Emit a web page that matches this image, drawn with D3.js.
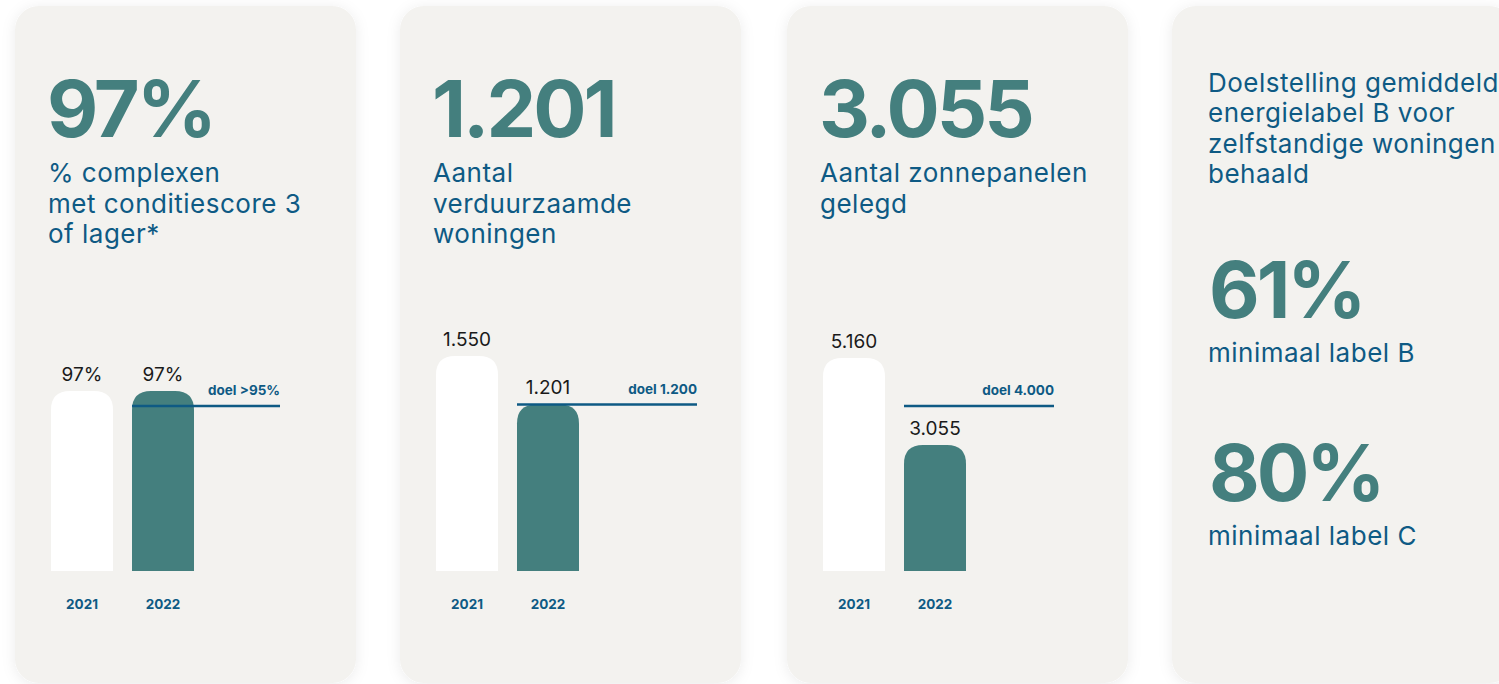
<!DOCTYPE html>
<html>
<head>
<meta charset="utf-8">
<script src="https://cdn.jsdelivr.net/npm/d3@7.9.0/dist/d3.min.js"></script>
<style>
  body { margin: 0; background: #ffffff; overflow: hidden; }
  svg { display: block; font-family: Inter, "Noto Sans", sans-serif; }
</style>
</head>
<body>
<svg id="chart" width="1499" height="684"></svg>
<script>
// data
const years = ['2021', '2022'];

const conditieValues = [97, 97];
const conditieTarget = 95;

const verduurzaamdValues = [1550, 1201];
const verduurzaamdTarget = 1200;

const zonnepanelenValues = [5160, 3055];
const zonnepanelenTarget = 4000;

const labelPercentages = [61, 80];
const labelNames = ['minimaal label B', 'minimaal label C'];

const nl = d3.formatLocale({ decimal: ',', thousands: '.', grouping: [3], currency: ['€', ''] });
const fmtNum = nl.format(',');
const fmtPct = d => d + '%';

const teal = '#447f7e';
const blue = '#0e5a84';
const cardFill = '#f3f2ef';

const svg = d3.select('#chart');

// soft shadow for the cards
const defs = svg.append('defs');
const shadow = defs.append('filter').attr('id', 'shadow')
  .attr('x', '-20%').attr('y', '-20%').attr('width', '140%').attr('height', '140%');
shadow.append('feDropShadow')
  .attr('dx', 0).attr('dy', 2).attr('stdDeviation', 7)
  .attr('flood-color', '#000').attr('flood-opacity', 0.08);

const cardX = [15, 400, 787, 1172];
const cardTop = 6, cardW = 341, cardH = 677;

svg.selectAll('rect.card').data(cardX).enter().append('rect')
  .attr('class', 'card')
  .attr('x', d => d).attr('y', cardTop)
  .attr('width', cardW).attr('height', cardH)
  .attr('rx', 24)
  .attr('fill', cardFill)
  .attr('filter', 'url(#shadow)');

// rounded top only
function barPath(x, y, w, h, r) {
  r = Math.min(r, w / 2, h);
  return `M${x},${y + h}V${y + r}Q${x},${y} ${x + r},${y}H${x + w - r}Q${x + w},${y} ${x + w},${y + r}V${y + h}Z`;
}

const baseY = 571;

const cards = [
  {
    x: cardX[0], big: fmtPct(conditieValues[1]),
    sub: ['% complexen', 'met conditiescore 3', 'of lager*'],
    values: conditieValues, target: conditieTarget,
    fmt: fmtPct, targetLabel: 'doel >' + fmtPct(conditieTarget),
    domain: [73, 97], top: 391, lineEnd: 265
  },
  {
    x: cardX[1], big: fmtNum(verduurzaamdValues[1]),
    sub: ['Aantal', 'verduurzaamde', 'woningen'],
    values: verduurzaamdValues, target: verduurzaamdTarget,
    fmt: fmtNum, targetLabel: 'doel ' + fmtNum(verduurzaamdTarget),
    domain: [0, 1550], top: 356, lineEnd: 297
  },
  {
    x: cardX[2], big: fmtNum(zonnepanelenValues[1]),
    sub: ['Aantal zonnepanelen', 'gelegd'],
    values: zonnepanelenValues, target: zonnepanelenTarget,
    fmt: fmtNum, targetLabel: 'doel ' + fmtNum(zonnepanelenTarget),
    domain: [0, 5160], top: 358, lineEnd: 267
  }
];

cards.forEach(c => {
  const g = svg.append('g');

  g.append('text')
    .attr('x', c.x + 32).attr('y', 137)
    .attr('fill', teal)
    .attr('font-size', 79).attr('font-weight', 700)
    .attr('letter-spacing', -3)
    .text(c.big);

  g.selectAll('text.sub').data(c.sub).enter().append('text')
    .attr('class', 'sub')
    .attr('x', c.x + 33).attr('y', (d, i) => 182 + i * 30.5)
    .attr('fill', blue)
    .attr('font-size', 26)
    .attr('letter-spacing', 0.5)
    .text(d => d);

  const x = d3.scaleBand().domain(years)
    .range([c.x + 36, c.x + 179])
    .paddingInner(19 / 81).paddingOuter(0);
  const y = d3.scaleLinear().domain(c.domain).range([baseY, c.top]);

  const data = years.map((yr, i) => ({ year: yr, value: c.values[i], i }));

  g.selectAll('path.bar').data(data).enter().append('path')
    .attr('class', 'bar')
    .attr('d', d => barPath(x(d.year), y(d.value), x.bandwidth(), baseY - y(d.value), 19))
    .attr('fill', d => d.i === 0 ? '#ffffff' : teal);

  g.selectAll('text.val').data(data).enter().append('text')
    .attr('class', 'val')
    .attr('x', d => x(d.year) + x.bandwidth() / 2)
    .attr('y', d => y(d.value) - 10)
    .attr('text-anchor', 'middle')
    .attr('fill', '#1a1a1a')
    .attr('font-size', 19)
    .text(d => c.fmt(d.value));

  g.selectAll('text.year').data(data).enter().append('text')
    .attr('class', 'year')
    .attr('x', d => x(d.year) + x.bandwidth() / 2)
    .attr('y', 609)
    .attr('text-anchor', 'middle')
    .attr('fill', blue)
    .attr('font-size', 13.5).attr('font-weight', 700)
    .text(d => d.year);

  const ty = y(c.target);
  g.append('line')
    .attr('x1', x(years[1])).attr('x2', c.x + c.lineEnd)
    .attr('y1', ty).attr('y2', ty)
    .attr('stroke', blue).attr('stroke-width', 2.5);

  g.append('text')
    .attr('x', c.x + c.lineEnd).attr('y', ty - 11)
    .attr('text-anchor', 'end')
    .attr('fill', blue)
    .attr('font-size', 13.5).attr('font-weight', 700)
    .text(c.targetLabel);
});

// card 4: energielabel
const g4 = svg.append('g');
const introLines = ['Doelstelling gemiddeld', 'energielabel B voor', 'zelfstandige woningen', 'behaald'];
g4.selectAll('text.intro').data(introLines).enter().append('text')
  .attr('x', cardX[3] + 36).attr('y', (d, i) => 92 + i * 30.3)
  .attr('fill', blue).attr('font-size', 26)
  .attr('letter-spacing', 0.5)
  .text(d => d);

const blockY = [318, 501];
labelPercentages.forEach((p, i) => {
  g4.append('text')
    .attr('x', cardX[3] + 37).attr('y', blockY[i])
    .attr('fill', teal)
    .attr('font-size', 78).attr('font-weight', 700)
    .attr('letter-spacing', -3)
    .text(fmtPct(p));
  g4.append('text')
    .attr('x', cardX[3] + 36).attr('y', blockY[i] + 44)
    .attr('fill', blue).attr('font-size', 26)
    .attr('letter-spacing', 0.5)
    .text(labelNames[i]);
});
</script>
</body>
</html>
